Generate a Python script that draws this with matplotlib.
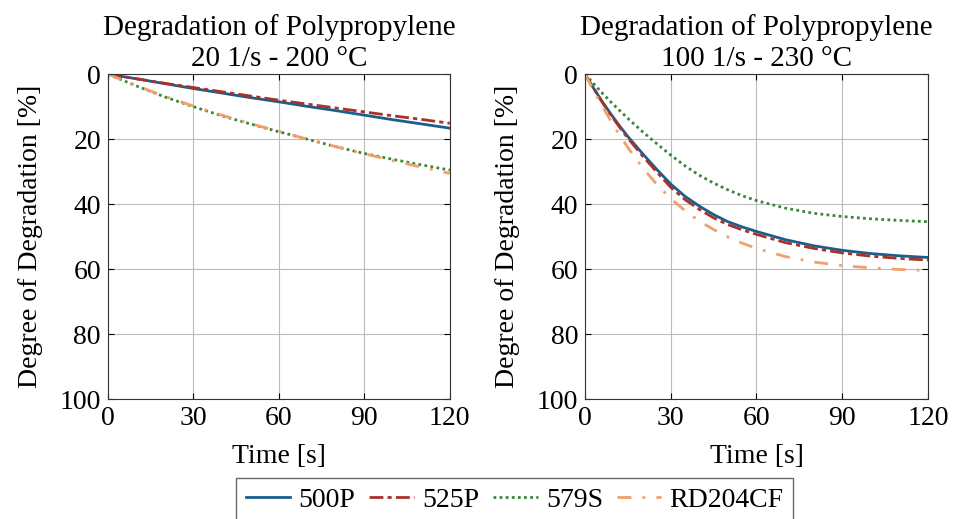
import numpy as np
import matplotlib.pyplot as plt

# --- data (degree of degradation in %) ---
t_left = [0, 10, 20, 30, 40, 50, 60, 70, 80, 90, 100, 110, 120]
left_500P = [0, 1.4, 2.9, 4.4, 5.8, 7.2, 8.5, 9.9, 11.2, 12.6, 14.0, 15.3, 16.6]
left_525P = [0, 1.4, 2.8, 4.1, 5.4, 6.7, 8.0, 9.2, 10.4, 11.6, 12.8, 13.9, 15.1]
left_579S = [0, 3.6, 7.0, 10.0, 12.8, 15.3, 17.7, 20.0, 22.3, 24.4, 26.2, 27.9, 29.5]
left_RD204CF = [0, 3.5, 6.8, 9.8, 12.6, 15.2, 17.6, 20.0, 22.3, 24.5, 26.6, 28.6, 30.5]

t_right = [0, 3, 6, 9, 12, 15, 20, 25, 30, 35, 40, 45, 50, 55, 60, 70, 80, 90, 100, 110, 120]
right_500P = [0, 4.3, 8.4, 12.2, 15.8, 19.2, 24.3, 29.2, 33.8, 37.6, 40.6, 43.2, 45.4, 47.0, 48.4, 50.9, 52.8, 54.2, 55.2, 55.9, 56.4]
right_525P = [0, 4.4, 8.6, 12.5, 16.2, 19.7, 25.0, 30.0, 34.8, 38.6, 41.6, 44.2, 46.3, 47.9, 49.3, 51.8, 53.6, 55.0, 56.0, 56.7, 57.2]
right_579S = [0, 2.9, 5.8, 8.5, 11.1, 13.6, 17.6, 21.3, 24.9, 28.2, 31.1, 33.5, 35.6, 37.4, 38.9, 41.2, 42.8, 43.8, 44.5, 45.0, 45.4]
right_RD204CF = [0, 5.0, 9.8, 14.3, 18.6, 22.6, 28.6, 33.8, 38.3, 42.0, 45.2, 47.8, 50.1, 52.0, 53.6, 56.1, 57.8, 58.9, 59.6, 60.1, 60.4]

labels = ['500P', '525P', '579S', 'RD204CF']
titles = ['Degradation of Polypropylene\n20 1/s - 200 °C',
          'Degradation of Polypropylene\n100 1/s - 230 °C']

colors = ['#1b5e8c', '#a8322a', '#3b873a', '#f2a06b']
styles = ['-', (0, (5, 1.5, 1.5, 1.5)), (0, (1, 1.2)), (0, (5, 4, 1, 4))]

plt.rcParams['font.family'] = ['Liberation Serif', 'DejaVu Serif']
plt.rcParams['font.size'] = 20

fig = plt.figure(figsize=(9.55, 5.19), dpi=100)
ax1 = fig.add_axes([0.113, 0.231, 0.358, 0.626])
ax2 = fig.add_axes([0.6126, 0.231, 0.359, 0.626])

panels = [
    (ax1, t_left, [left_500P, left_525P, left_579S, left_RD204CF]),
    (ax2, t_right, [right_500P, right_525P, right_579S, right_RD204CF]),
]

handles = []
for i, (ax, t, series) in enumerate(panels):
    for y, c, ls, lab in zip(series, colors, styles, labels):
        h, = ax.plot(t, y, color=c, linestyle=ls, linewidth=2, label=lab)
        if i == 0:
            handles.append(h)
    ax.set_xlim(0, 120)
    ax.set_ylim(100, 0)
    ax.set_xticks([0, 30, 60, 90, 120])
    ax.set_yticks([0, 20, 40, 60, 80, 100])
    ax.grid(True, color='#bbbbbb', linewidth=0.8)
    ax.tick_params(direction='in', length=4, labelsize=20, top=True, right=True, pad=5)
    ax.set_xlabel('Time [s]', fontsize=20, labelpad=9)
    ax.set_ylabel('Degree of Degradation [%]', fontsize=20, labelpad=12)
    ax.set_title(titles[i], fontsize=21, linespacing=1.25, pad=6)
    for s in ax.spines.values():
        s.set_color('#333333')

fig.legend(handles=handles, loc='upper center', bbox_to_anchor=(0.539, 0.079),
           borderaxespad=0, ncol=4, frameon=True, fancybox=False, edgecolor='#444444',
           fontsize=20, handlelength=1.6, handletextpad=0.3, columnspacing=0.5,
           borderpad=0.35)

fig.savefig('out.png', dpi=100)
